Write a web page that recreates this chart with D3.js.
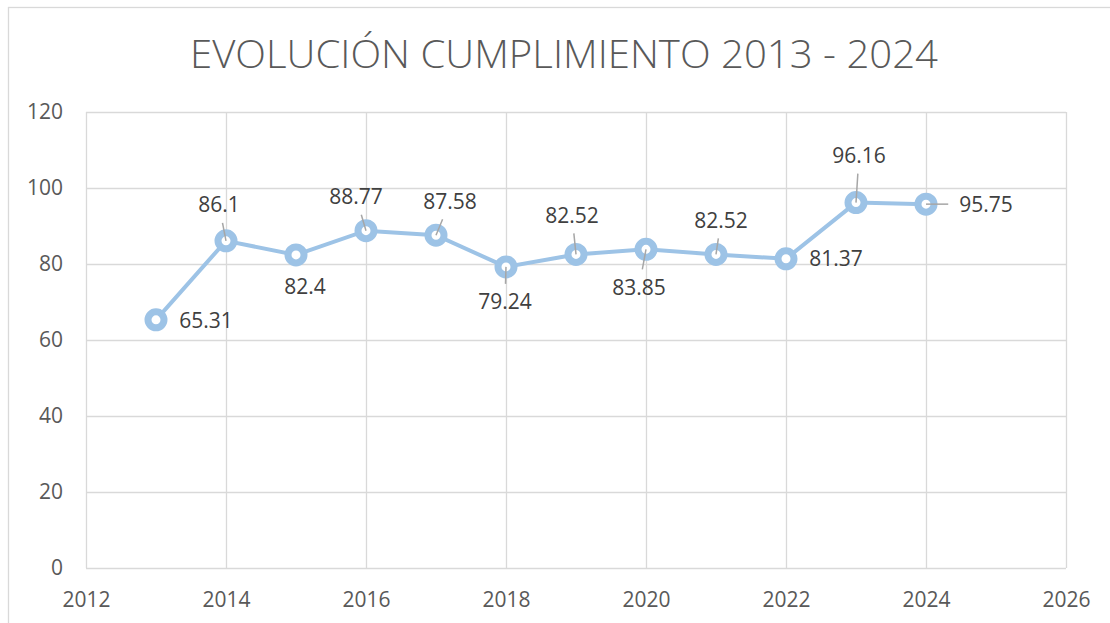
<!DOCTYPE html>
<html>
<head>
<meta charset="utf-8">
<script src="https://cdn.jsdelivr.net/npm/d3@7"></script>
<style>
    body { margin: 0; background: #ffffff; }
    svg { display: block; font-family: "Open Sans", "Noto Sans", sans-serif; }
</style>
</head>
<body>
<svg id="chart" width="1110" height="623"></svg>
<script>
// chart values
let years = [2013, 2014, 2015, 2016, 2017, 2018, 2019, 2020, 2021, 2022, 2023, 2024];
let scores = [65.31, 86.1, 82.4, 88.77, 87.58, 79.24, 82.52, 83.85, 82.52, 81.37, 96.16, 95.75];
let xTicks = [2012, 2014, 2016, 2018, 2020, 2022, 2024, 2026];
let yTicks = [0, 20, 40, 60, 80, 100, 120];
let title = 'EVOLUCIÓN CUMPLIMIENTO 2013 - 2024';

// where each data label sits relative to its point (layout only)
let labelShift = [[50, 1], [-7, -36], [9, 32], [-10, -34], [14, -34], [-1, 35],
                  [-4, -39], [-7, 38], [5, -34], [50, 0], [3, -47], [60, 0]];

let lineColour = '#9dc3e6';
let gridColour = '#d9d9d9';

let svg = d3.select('#chart');
let plotLeft = 86, plotRight = 1066, plotTop = 112, plotBottom = 568;

// outer frame
svg.append('rect')
    .attr('x', 8.5).attr('y', 7.5)
    .attr('width', 1120).attr('height', 640)
    .attr('fill', 'none')
    .attr('stroke', gridColour)
    .attr('stroke-width', 1.3);

svg.append('text')
    .attr('x', 564)
    .attr('y', 68)
    .attr('text-anchor', 'middle')
    .attr('font-size', 38)
    .attr('font-weight', 300)
    .attr('fill', '#595959')
    .attr('textLength', 748)
    .attr('lengthAdjust', 'spacingAndGlyphs')
    .text(title);

let xScale = d3.scaleLinear().domain([2012, 2026]).range([plotLeft, plotRight]);
let yScale = d3.scaleLinear().domain([0, 120]).range([plotBottom, plotTop]);

// grid
svg.append('g')
    .attr('transform', 'translate(0,' + plotBottom + ')')
    .call(d3.axisBottom(xScale).tickValues(xTicks).tickSize(-(plotBottom - plotTop)).tickFormat(''))
    .call(g => g.select('.domain').remove())
    .call(g => g.selectAll('line').attr('stroke', gridColour).attr('stroke-width', 1.3));

svg.append('g')
    .attr('transform', 'translate(' + plotLeft + ',0)')
    .call(d3.axisLeft(yScale).tickValues(yTicks).tickSize(-(plotRight - plotLeft)).tickFormat(''))
    .call(g => g.select('.domain').remove())
    .call(g => g.selectAll('line').attr('stroke', gridColour).attr('stroke-width', 1.3));

// tick labels
let xAxis = svg.append('g')
    .attr('transform', 'translate(0,' + plotBottom + ')')
    .call(d3.axisBottom(xScale).tickValues(xTicks).tickSize(0).tickPadding(24).tickFormat(d3.format('d')));
xAxis.select('.domain').remove();
xAxis.selectAll('text').attr('font-size', 21).attr('fill', '#595959');
xAxis.attr('font-family', null);

let yAxis = svg.append('g')
    .attr('transform', 'translate(' + plotLeft + ',0)')
    .call(d3.axisLeft(yScale).tickValues(yTicks).tickSize(0).tickPadding(23));
yAxis.select('.domain').remove();
yAxis.selectAll('text').attr('font-size', 21).attr('fill', '#595959');
yAxis.attr('font-family', null);

// line
let points = years.map((y, i) => [xScale(y), yScale(scores[i])]);
svg.append('path')
    .attr('d', d3.line()(points))
    .attr('fill', 'none')
    .attr('stroke', lineColour)
    .attr('stroke-width', 4);

// markers
svg.append('g').selectAll('circle')
    .data(points)
    .enter()
    .append('circle')
    .attr('cx', d => d[0])
    .attr('cy', d => d[1])
    .attr('r', 8)
    .attr('fill', '#ffffff')
    .attr('stroke', lineColour)
    .attr('stroke-width', 7);

// data labels with leader lines
let labels = svg.append('g');
for (let i = 0; i < scores.length; i++) {
    let px = points[i][0], py = points[i][1];
    let cx = px + labelShift[i][0], cy = py + labelShift[i][1];
    let t = labels.append('text')
        .attr('x', cx)
        .attr('y', cy)
        .attr('dy', '0.35em')
        .attr('text-anchor', 'middle')
        .attr('font-size', 21)
        .attr('fill', '#404040')
        .text(scores[i]);
    let w = t.node().getComputedTextLength() / 2 + 11;
    let h = 18;
    let dx = px - cx, dy = py - cy;
    let k = Math.min(dx === 0 ? Infinity : w / Math.abs(dx), dy === 0 ? Infinity : h / Math.abs(dy));
    let sx = cx + dx * k, sy = cy + dy * k;
    let len = Math.hypot(px - sx, py - sy);
    if (k < 1 && len > 16) {
        labels.append('line')
            .attr('x1', sx).attr('y1', sy)
            .attr('x2', px).attr('y2', py)
            .attr('stroke', '#a6a6a6')
            .attr('stroke-width', 1.5);
    }
}
</script>
</body>
</html>
